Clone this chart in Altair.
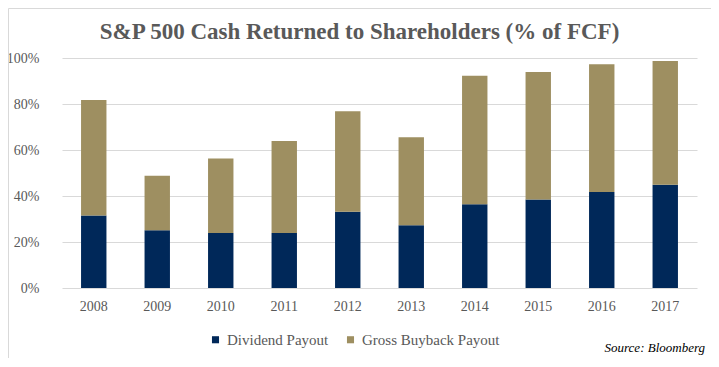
import altair as alt
import pandas as pd

years = ["2008", "2009", "2010", "2011", "2012", "2013", "2014", "2015", "2016", "2017"]
dividend = [31.5, 25.1, 23.9, 23.9, 33.2, 27.3, 36.4, 38.5, 41.7, 44.9]
total = [81.7, 48.8, 56.3, 63.9, 76.8, 65.5, 92.3, 93.9, 97.3, 98.7]
buyback = [round(t - d, 1) for t, d in zip(total, dividend)]
series = ["Dividend Payout", "Gross Buyback Payout"]
colors = ["#002859", "#9E8F61"]

rows = []
for y, d, b in zip(years, dividend, buyback):
    rows.append({"year": y, "series": series[0], "value": d, "ord": 0})
    rows.append({"year": y, "series": series[1], "value": b, "ord": 1})
df = pd.DataFrame(rows)

FONT = "Liberation Serif"
GREY = "#595959"

bars = alt.Chart(df).mark_bar().encode(
    x=alt.X("year:N", title=None, sort=years,
            scale=alt.Scale(paddingInner=0.6, paddingOuter=0.3),
            axis=alt.Axis(labelAngle=0, labelFont=FONT, labelFontSize=14,
                          labelColor=GREY, ticks=False, domain=False,
                          labelPadding=11)),
    y=alt.Y("value:Q", title=None, stack="zero",
            scale=alt.Scale(domain=[0, 100], nice=False),
            axis=alt.Axis(values=[0, 20, 40, 60, 80, 100],
                          labelExpr="datum.value + '%'",
                          labelFont=FONT, labelFontSize=14, labelColor=GREY,
                          ticks=False, domain=False, labelPadding=23,
                          grid=True, gridColor="#D9D9D9", gridWidth=1)),
    color=alt.Color("series:N", sort=series,
                    scale=alt.Scale(domain=series, range=colors),
                    legend=alt.Legend(title=None, orient="none", direction="horizontal",
                                      legendX=146, legendY=274,
                                      symbolType="square", symbolSize=50,
                                      symbolStrokeWidth=0,
                                      labelFont=FONT, labelFontSize=15,
                                      labelColor=GREY, columnPadding=14,
                                      labelOffset=4)),
    order=alt.Order("ord:Q", sort="ascending"),
)

source = alt.Chart(pd.DataFrame({"t": ["Source: Bloomberg"]})).mark_text(
    align="right", baseline="alphabetic", font=FONT, fontSize=13,
    fontStyle="italic", color="#000000"
).encode(text="t:N", x=alt.value(643), y=alt.value(294))

border = alt.Chart(pd.DataFrame({"a": [0]})).mark_rect(
    fill=None, stroke="#D9D9D9", strokeWidth=1
).encode(x=alt.value(-53.5), x2=alt.value(651.5), y=alt.value(-49.5), y2=alt.value(304))

chart = alt.layer(border, bars, source).properties(
    width=635, height=230,
    title=alt.TitleParams("S&P 500 Cash Returned to Shareholders (% of FCF)",
                          font=FONT, fontSize=23, fontWeight="bold", color=GREY,
                          anchor="middle", frame="group", dx=-20, dy=50, offset=14),
    autosize=alt.AutoSizeParams(type="none"),
    padding={"left": 54, "top": 50, "right": 14, "bottom": 70},
).configure(background="white", font=FONT).configure_view(stroke=None)

chart.save("out.html", embed_options={"renderer": "svg", "actions": False})
